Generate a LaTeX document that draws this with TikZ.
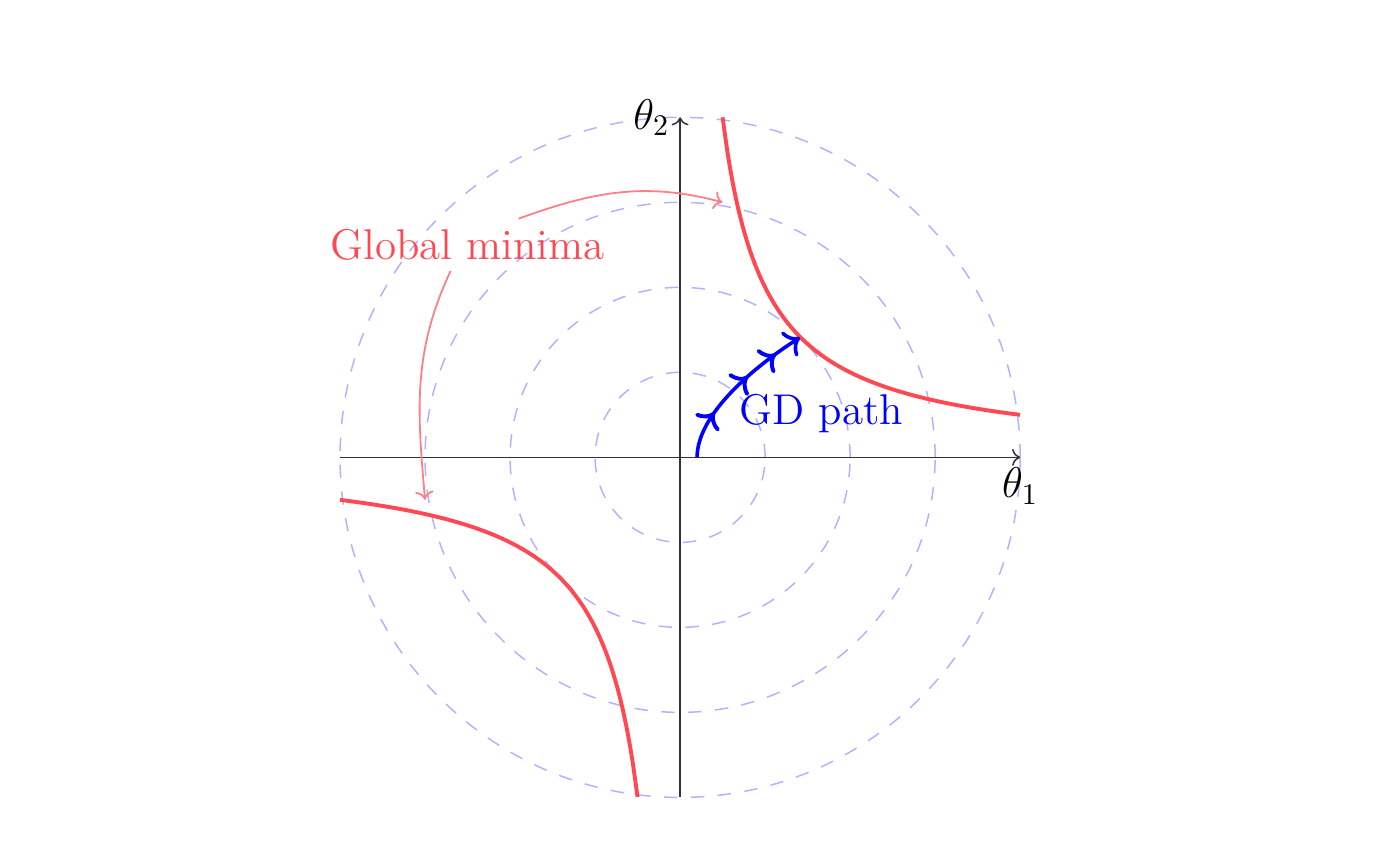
\documentclass[tikz,border=0pt]{standalone}
\usepackage{amsmath}
\usepackage{amssymb}
\usepackage{tikz}
\usetikzlibrary{positioning,decorations.markings,arrows,arrows.meta}
\usepackage{xcolor}
\definecolor{minred}{RGB}{255,72,82}
\tikzstyle{level}=[draw=blue!30, line width=0.5pt, dash pattern=on 4.5pt off 4.5pt]
\tikzstyle{axis}=[->, draw=black!80, line width=0.5pt]
\tikzstyle{minima}=[draw=minred, line width=1.3pt]
\tikzstyle{pointer}=[->, draw=minred!70, line width=0.6pt]
\tikzstyle{gd}=[-{>[scale=1.1]}, draw=blue, line width=1.2pt, postaction={decorate},
decoration={markings, mark=at position 0.3 with {\arrow[scale=1.1]{>}},
mark=at position 0.6 with {\arrow[scale=1.1]{>}}, mark=at position 0.82 with {\arrow[scale=1.1]{>}}}]

\begin{document}
\begin{tikzpicture}
            \useasboundingbox (-8,-4.79) rectangle (8.28,5.38);
            % level sets
            \foreach \r in {1,2,3,4}
                \draw[level] (0,0) circle (\r);
            \draw[axis] (-4,0) -- (4,0);
            \draw[axis] (0,-4) -- (0,4);
            \node (1)[below] at (4,0) {\Large $\theta_1$};
            \node (2)[left] at (0,4) {\Large $\theta_2$};
            % minima
            \draw[minima] plot[domain=0.5:4, samples=60, smooth] (\x,{2/\x});
            \draw[minima] plot[domain=-4:-0.5, samples=60, smooth] (\x,{2/\x});
            \node (3)[text=minred] at (-2.5,2.5) {\Large Global minima};
            \node (4)[text=blue] at (1.66,0.52) {\Large GD path};
            \coordinate (5) at (0.5,3);
            \coordinate (6) at (-3,-0.5);
            \draw[pointer] ([xshift=0.6cm]3.north) to[out=20,in=165] (5);
            \draw[pointer] ([xshift=-0.2cm]3.south) to[out=-115,in=95] (6);
            % gradient descent
            \draw[gd] (0.2,0) .. controls (0.2,0.5) and (0.85,1.05) .. (1.41,1.41);
        \end{tikzpicture}
\end{document}
